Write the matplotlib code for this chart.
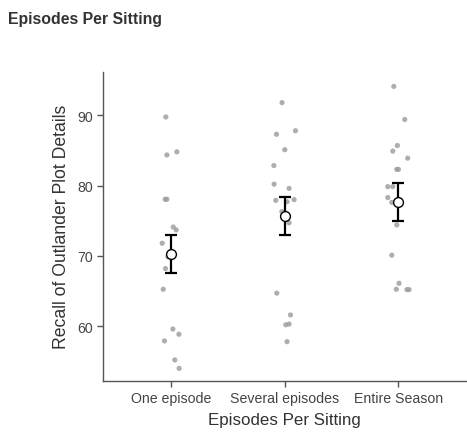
import matplotlib
matplotlib.use("Agg")
import matplotlib.pyplot as plt
import numpy as np

categories = ["One episode", "Several episodes", "Entire Season"]

one_episode = [89.76, 84.35, 84.8, 78.05, 78.05, 74.1, 73.7, 71.8, 69.85, 68.2,
               65.25, 59.6, 58.85, 57.9, 55.2, 54.0]
one_jitter = [-0.047, -0.038, 0.050, -0.053, -0.038, 0.018, 0.044, -0.079, -0.029,
              -0.050, -0.070, 0.015, 0.068, -0.059, 0.032, 0.070]

several_episodes = [91.8, 87.3, 87.8, 85.1, 82.85, 80.2, 79.6, 77.9, 77.7, 78.0,
                    76.3, 74.7, 64.7, 61.6, 60.2, 60.3, 57.8]
several_jitter = [-0.024, -0.073, 0.094, 0.0, -0.096, -0.094, 0.038, -0.079, 0.020,
                  0.082, -0.026, 0.038, -0.070, 0.050, 0.009, 0.038, 0.020]

entire_season = [94.1, 89.4, 85.7, 84.9, 83.9, 82.3, 82.3, 79.85, 79.85, 78.3, 77.6,
                 74.4, 70.1, 66.1, 65.25, 65.2, 65.2]
entire_jitter = [-0.040, 0.056, -0.009, -0.049, 0.082, -0.014, 0.0, -0.093, -0.049,
                 -0.093, -0.058, -0.014, -0.058, 0.006, -0.018, 0.076, 0.094]

means = [70.2, 75.7, 77.7]
err_low = [67.5, 73.0, 75.0]
err_high = [72.97, 78.4, 80.3]

yticks = [60, 70, 80, 90]

fig = plt.figure(figsize=(4.67, 4.35), dpi=100)
ax = fig.add_axes([0.2206, 0.1218, 0.7784, 0.7111])

groups = [(one_episode, one_jitter), (several_episodes, several_jitter),
          (entire_season, entire_jitter)]
for i, (vals, jit) in enumerate(groups):
    xs = i + np.array(jit)
    ax.scatter(xs, vals, s=14, color="#9a9a9a", alpha=0.8, edgecolors="none", zorder=2)

x = np.arange(len(categories))
means_a = np.array(means)
yerr = np.vstack([means_a - np.array(err_low), np.array(err_high) - means_a])
ax.errorbar(x, means_a, yerr=yerr, fmt="none", ecolor="black", elinewidth=1.6,
            capsize=4.3, capthick=1.6, zorder=3)
ax.scatter(x, means_a, s=50, facecolor="white", edgecolor="black", linewidth=1.0, zorder=4)

ax.set_xlim(-0.6, 2.6)
ax.set_ylim(52.2, 96.2)
ax.set_xticks(x)
ax.set_xticklabels(categories)
ax.set_yticks(yticks)

for s in ["top", "right"]:
    ax.spines[s].set_visible(False)
for s in ["left", "bottom"]:
    ax.spines[s].set_color("#555555")
    ax.spines[s].set_linewidth(1.0)

ax.tick_params(axis="both", colors="#555555", length=4, width=1.0,
               labelsize=10.2, labelcolor="#444444")
for lab in ax.get_xticklabels() + ax.get_yticklabels():
    lab.set_fontfamily("Liberation Sans")

ax.set_xlabel("Episodes Per Sitting", fontsize=12.2, color="#333333",
              fontfamily="Liberation Sans", labelpad=5)
ax.set_ylabel("Recall of Outlander Plot Details", fontsize=12.7, color="#333333",
              fontfamily="Liberation Sans", labelpad=5)

fig.text(0.017, 0.956, "Episodes Per Sitting", fontsize=11.4, fontweight="bold",
         color="#333333", fontfamily="Liberation Sans", ha="left", va="center")

fig.savefig("out.png", dpi=100)
